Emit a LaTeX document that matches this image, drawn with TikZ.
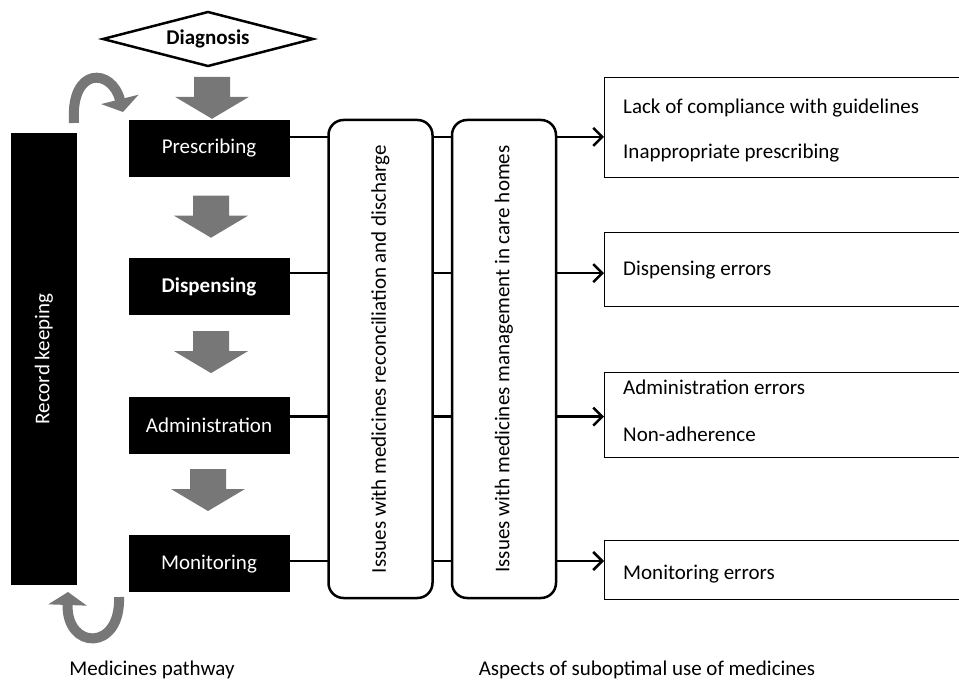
\documentclass[tikz,border=0pt]{standalone}
\usepackage{fontspec}
\setmainfont{Carlito}
\usetikzlibrary{positioning,arrows.meta}
\definecolor{arrowgray}{HTML}{777777}

\begin{document}
\begin{tikzpicture}[x=1pt,y=-1pt,
		font=\fontsize{21}{25}\selectfont,
		stage/.style={fill=black,text=white,minimum width=161pt,minimum height=57pt,inner sep=0pt},
		flowarrow/.pic={\fill[arrowgray] (-18,-21) -- (18,-21) -- (18,-1) -- (37,-1) -- (0,21)
			-- (-37,-1) -- (-18,-1) -- cycle;},
		issue/.style={draw,fill=white,rotate=90,rounded corners=15pt,line width=2.5pt,
			minimum width=478pt,minimum height=104pt,inner sep=0pt},
		aspect/.style={draw,line width=1.4pt,anchor=north west,minimum width=358pt,inner sep=0pt},
		aspecttext/.style={anchor=west,inner sep=0pt},
		link/.style={line width=2.5pt,-{Straight Barb[length=9pt,width=18pt]}},
		loop/.style={draw=arrowgray,line width=10pt,-{Triangle[width=38pt,length=13pt]}}]
	\useasboundingbox (0,0) rectangle (959,682);
	\clip (0,0) rectangle (959,682);

	\node[inner sep=0pt] (diag) at (208,39) {\textbf{Diagnosis}};
	\draw[line width=2.5pt,line join=miter] ([xshift=-105pt]diag.center) -- ([yshift=27pt]diag.center)
		-- ([xshift=105pt]diag.center) -- ([yshift=-27pt]diag.center) -- cycle;

	% medicines pathway
	\node[stage] (presc) at (209,148.5) {Prescribing};
	\node[stage,below=81pt of presc] (disp) {\textbf{Dispensing}};
	\node[stage,below=81pt of disp] (admin) {Administration};
	\node[stage,below=81pt of admin] (monit) {Monitoring};

	\path (presc.north) ++(3,-22) pic (f1) {flowarrow};
	\path (presc.south) ++(2,39.5) pic (f2) {flowarrow};
	\path (disp.south) ++(2,36.5) pic (f3) {flowarrow};
	\path (admin.south) ++(-1,36) pic (f4) {flowarrow};

	\node[fill=black,text=white,rotate=90,minimum width=452pt,minimum height=66pt,inner sep=0pt] (record) at (44,359) {Record keeping};

	\draw[loop] (74,123) coordinate (l1) .. controls (70,66) and (112,68) .. (123,112);
	\draw[loop] (119,597) coordinate (l2) .. controls (121,652) and (66,650) .. (68,592);

	% aspects of suboptimal use
	\node[aspect,minimum height=100pt] (a1) at (604,77) {};
	\node[aspect,minimum height=74pt] (a2) at (604,232) {};
	\node[aspect,minimum height=85pt] (a3) at (604,372) {};
	\node[aspect,minimum height=59pt] (a4) at (604,540) {};

	\draw[link] ([yshift=-17pt]presc.north east) coordinate (p1) -- (p1 -| a1.west);
	\draw[link] ([yshift=-15pt]disp.north east) coordinate (p2) -- (p2 -| a2.west);
	\draw[link] ([yshift=-20pt]admin.north east) coordinate (p3) -- (p3 -| a3.west);
	\draw[link] ([yshift=-26pt]monit.north east) coordinate (p4) -- (p4 -| a4.west);

	\node[issue] (recon) at (380.5,359) {Issues with medicines reconciliation and discharge};
	\node[issue] (homes) at (504,359) {Issues with medicines management in care homes};

	\node[aspecttext] (t1) at (623,108) {Lack of compliance with guidelines};
	\node[aspecttext] (t2) at (623,153) {Inappropriate prescribing};
	\node[aspecttext] (t3) at (623,270) {Dispensing errors};
	\node[aspecttext] (t4) at (623,387) {Administration errors};
	\node[aspecttext] (t5) at (623,434) {Non-adherence};
	\node[aspecttext] (t6) at (623,574) {Monitoring errors};

	\node (pathway) at (152,670) {Medicines pathway};
	\node (aspects) at (647,670) {Aspects of suboptimal use of medicines};
\end{tikzpicture}
\end{document}
